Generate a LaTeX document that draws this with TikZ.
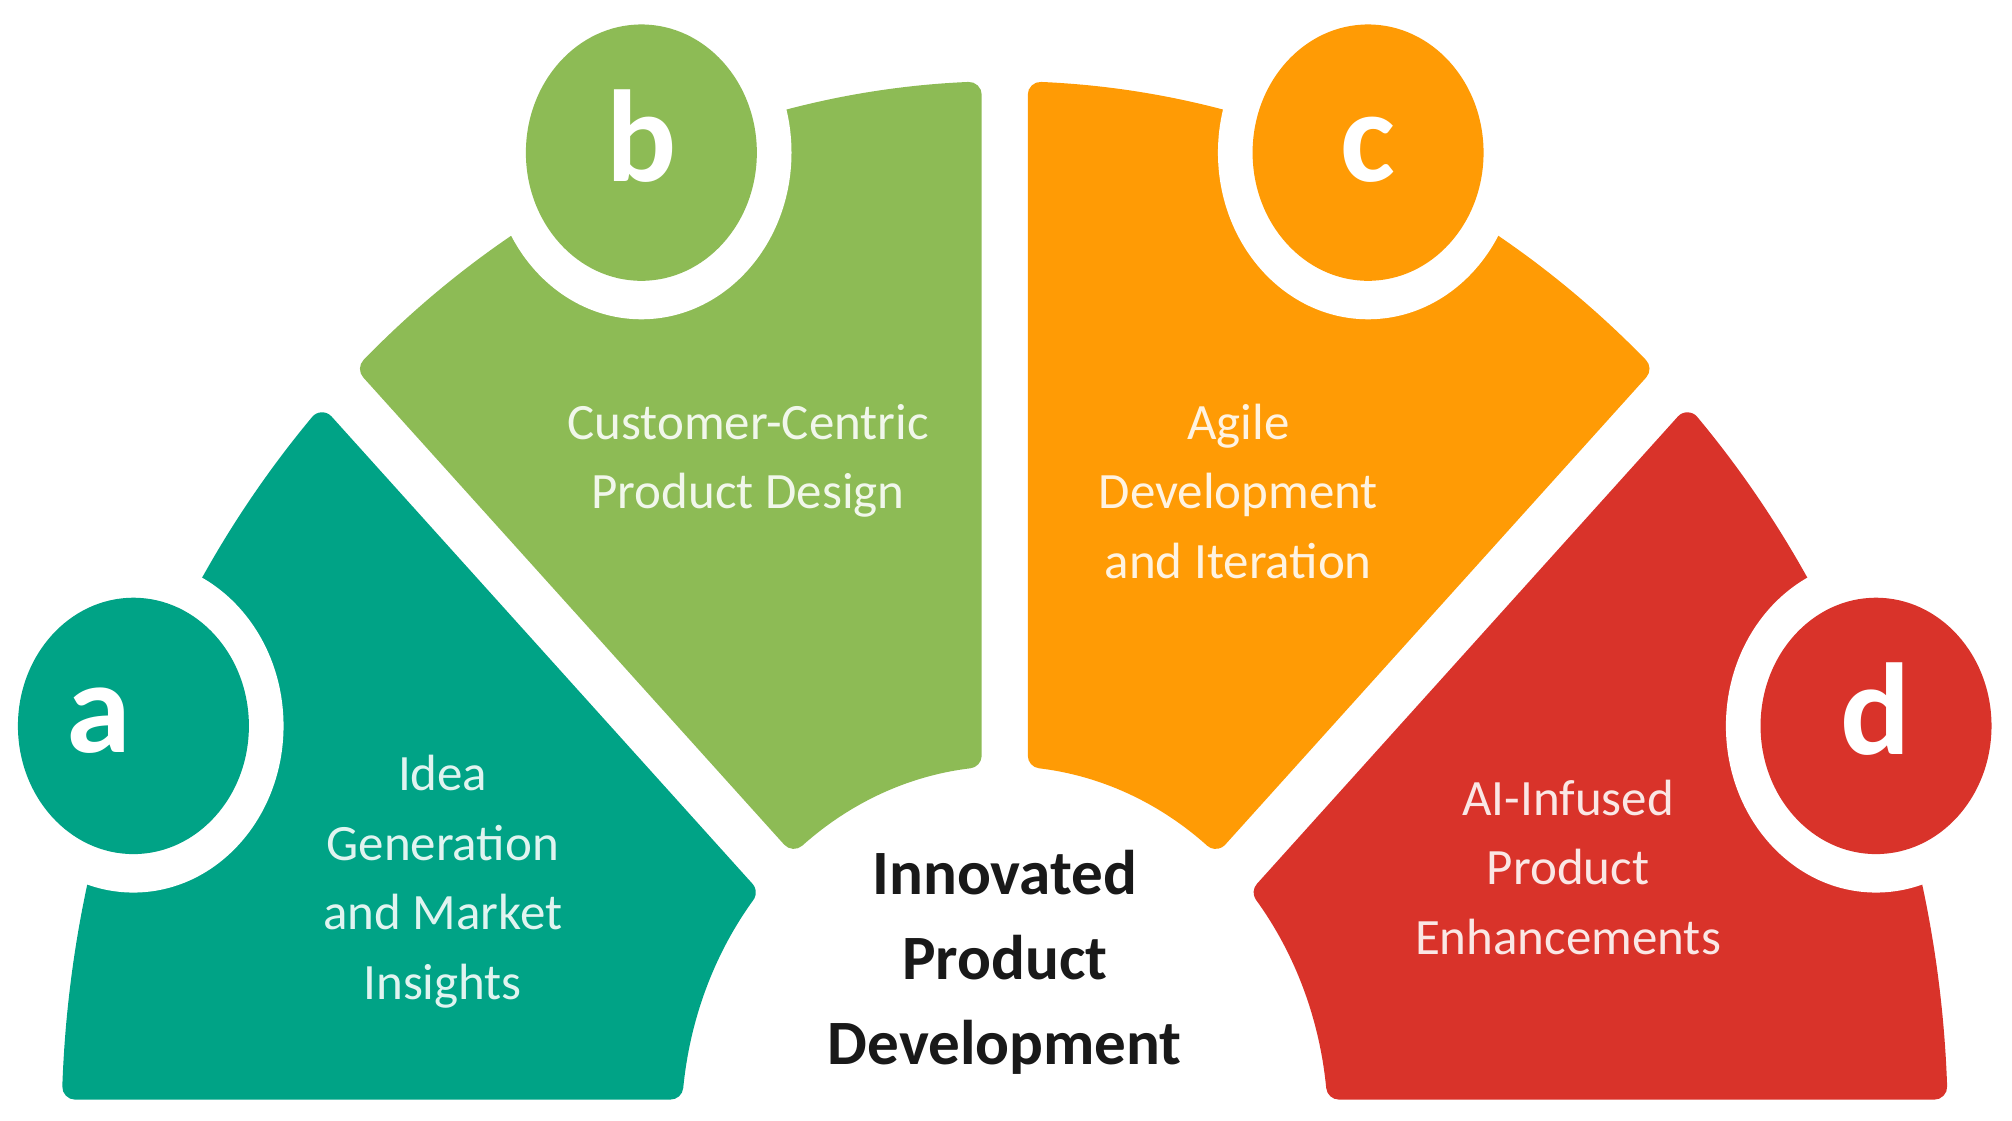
\documentclass[tikz,border=0pt]{standalone}
\usepackage{fontspec}
\setmainfont{Carlito}
\definecolor{ideateal}{HTML}{00A386}
\definecolor{designgreen}{HTML}{8DBB55}
\definecolor{agileorange}{HTML}{FF9B05}
\definecolor{enhancered}{HTML}{D9332A}
\tikzset{
  sectorfill/.style={fill=#1, draw=#1, line width=0.2cm, line join=round},
  steplabel/.style={text=white!88!#1, align=center, font=\fontsize{11.3}{15.4}\selectfont},
  letterlabel/.style={text=white, anchor=base, font=\fontsize{29}{29}\selectfont\bfseries},
}

\begin{document}
\begin{tikzpicture}
    \useasboundingbox (0,0) rectangle (15.68,8.73);
    \begin{scope}[shift={(7.83,-0.05)}, yscale=1.11]
        \foreach \col/\alo in {enhancered/0, agileorange/45, designgreen/90, ideateal/135}{
            \pgfmathsetmacro{\ahi}{\alo+45}
            \filldraw[sectorfill=\col] ({\alo+6.13}:2.62) -- ({\alo+2.21}:7.25)
                arc[start angle=\alo+2.21, end angle=\ahi-2.21, radius=7.25]
                -- ({\ahi-6.13}:2.62)
                arc[start angle=\ahi-6.13, end angle=\alo+6.13, radius=2.62] -- cycle;
        }
        \foreach \col/\ang/\rad/\nm in {ideateal/157.5/7.35/a, designgreen/112.5/7.4/b, agileorange/67.5/7.4/c, enhancered/22.5/7.35/d}{
            \coordinate (c\nm) at (\ang:\rad);
            \fill[white] (c\nm) circle[radius=1.17];
            \fill[\col] (c\nm) circle[radius=0.9];
        }
    \end{scope}
    \node[letterlabel] (la) at ([xshift=-0.27cm, yshift=-0.21cm]ca) {a};
    \node[letterlabel] (lb) at ([yshift=-0.22cm]cb) {b};
    \node[letterlabel] (lc) at ([yshift=-0.22cm]cc) {c};
    \node[letterlabel] (ld) at ([yshift=-0.22cm]cd) {d};
    \node[steplabel=ideateal] (idea) at (3.45,1.86) {Idea\\Generation\\and Market\\Insights};
    \node[steplabel=designgreen] (design) at (5.83,5.14) {Customer-Centric\\Product Design};
    \node[steplabel=agileorange] (agile) at (9.65,4.90) {Agile\\Development\\and Iteration};
    \node[steplabel=enhancered] (enhance) at (12.22,1.97) {AI-Infused\\Product\\Enhancements};
    \node[align=center, text=black!90, font=\fontsize{14}{18.8}\selectfont\bfseries] (core) at (7.83,1.23) {Innovated\\Product\\Development};
\end{tikzpicture}
\end{document}
